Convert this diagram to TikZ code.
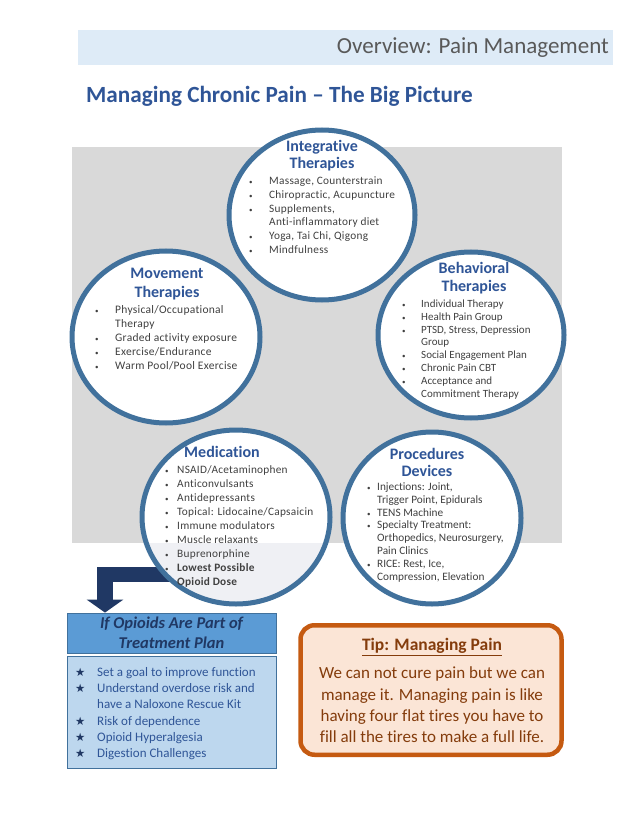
\documentclass[tikz,border=0pt]{standalone}
\usepackage{fontspec}
\setmainfont{Carlito}[Ligatures=NoCommon]
\newfontfamily\lsfont{Carlito}[Ligatures=NoCommon,LetterSpace=2.4]
\newfontfamily\symfont{DejaVu Sans}
\usetikzlibrary{shapes.geometric,arrows.meta}
\definecolor{ringblue}{HTML}{41719C}
\definecolor{titleblue}{HTML}{2F5597}
\definecolor{bodygray}{HTML}{404040}
\definecolor{bandblue}{HTML}{DEEBF7}
\definecolor{headgray}{HTML}{595959}
\definecolor{panelgray}{HTML}{D9D9D9}
\definecolor{navy}{HTML}{203864}
\definecolor{opihead}{HTML}{5B9BD5}
\definecolor{opibody}{HTML}{BDD7EE}
\definecolor{opiedge}{HTML}{41719C}
\definecolor{tipedge}{HTML}{C55A11}
\definecolor{tipfill}{HTML}{FBE5D6}
\definecolor{tiptext}{HTML}{843C0C}
\definecolor{lowfill}{HTML}{EFF0F4}
\newcommand{\bi}[1]{\makebox[#1][l]{\fontsize{7}{7}\selectfont\textbullet}}
\newcommand{\ci}[1]{\hspace*{#1}}
\newcommand{\st}{\makebox[22pt][l]{\color{navy}\symfont\fontsize{11.5}{11.5}\selectfont ★}}
\begin{document}
\begin{tikzpicture}[x=1pt,y=-1pt,
  ring/.style={ellipse, draw=ringblue, line width=5pt, fill=white, inner sep=0pt},
  ctitle/.style={align=center, inner sep=0pt, text=titleblue, font=\bfseries\fontsize{16}{17}\selectfont},
  blist/.style={anchor=north west, inner sep=0pt, align=left, text=bodygray}]
\useasboundingbox (0,0) rectangle (638,826);
% header band
\node[fill=bandblue, minimum width=535pt, minimum height=35pt, inner sep=0pt] (band) at (345.5,47.5) {};
\node[anchor=east, inner sep=0pt, text=headgray, font=\fontsize{23}{25}\selectfont] (bandtext) at (609,48) {Overview: Pain Management};
\node[anchor=base west, inner sep=0pt, text=titleblue, font=\bfseries\fontsize{23.2}{26}\selectfont] (maintitle) at (86,103) {Managing Chronic Pain – The Big Picture};
% gray panel
\node[fill=panelgray, minimum width=490pt, minimum height=396pt, inner sep=0pt] (panel) at (317,345) {};
\coordinate (graybottom) at (72,543);
% opioid boxes
\node[fill=opihead, draw=opiedge, line width=0.8pt, minimum width=209pt, minimum height=40pt, inner sep=0pt,
      align=center, text=navy, font=\bfseries\itshape\fontsize{16.5}{20}\selectfont] (opi) at (171.5,633)
      {If Opioids Are Part of\\Treatment Plan};
\node[fill=opibody, draw=opiedge, line width=0.8pt, minimum width=209pt, minimum height=112pt, inner sep=0pt] (opilist) at (171.5,712) {};
\node[blist, text=titleblue, font=\fontsize{13}{16.2}\selectfont] (opitext) at (75,665)
  {\strut\st Set a goal to improve function\\
   \st Understand overdose risk and\\
   \ci{22pt}have a Naloxone Rescue Kit\\
   \st Risk of dependence\\
   \st Opioid Hyperalgesia\\
   \st Digestion Challenges};
% arrow
\coordinate (armstart) at (185,574.5);
\draw[navy, line width=15.5pt, line join=miter, -{Triangle[width=36pt,length=13pt]}]
  (armstart) -| ([xshift=-66.5pt]opi.north);
% circles
\node[ring, minimum width=186pt, minimum height=170pt] (integ) at (322,215) {};
\node[ring, minimum width=188pt, minimum height=172pt] (move) at (166,337) {};
\node[ring, minimum width=186pt, minimum height=166pt] (behav) at (471,335) {};
\node[ring, minimum width=188pt, minimum height=174pt,
  path picture={\fill[lowfill] (path picture bounding box.west |- graybottom) rectangle (path picture bounding box.south east);}] (med) at (236,517) {};
\node[ring, minimum width=178pt, minimum height=172pt] (proc) at (432,518) {};
% circle titles
\node[ctitle] (integt) at (322,156) {Integrative\\Therapies};
\node[ctitle, font=\bfseries\fontsize{16}{19}\selectfont] (movet) at (167,284) {Movement\\Therapies};
\node[ctitle, font=\bfseries\fontsize{16}{18.3}\selectfont] (behavt) at (474,278) {Behavioral\\Therapies};
\node[ctitle] (medt) at (222,452) {Medication};
\node[ctitle, font=\bfseries\fontsize{16}{16.7}\selectfont] (proct) at (427,462.5) {Procedures\\Devices};
% lists
\node[blist, font=\lsfont\fontsize{11.3}{13.8}\selectfont] (integl) at (249,174.7)
  {\strut\bi{20pt}Massage, Counterstrain\\
   \bi{20pt}Chiropractic, Acupuncture\\
   \bi{20pt}Supplements,\\
   \ci{20pt}Anti-inflammatory diet\\
   \bi{20pt}Yoga, Tai Chi, Qigong\\
   \bi{20pt}Mindfulness};
\node[blist, font=\lsfont\fontsize{11.5}{14}\selectfont] (movel) at (95,303.7)
  {\strut\bi{20pt}Physical/Occupational\\
   \ci{20pt}Therapy\\
   \bi{20pt}Graded activity exposure\\
   \bi{20pt}Exercise/Endurance\\
   \bi{20pt}Warm Pool/Pool Exercise};
\node[blist, font=\fontsize{11}{12.9}\selectfont] (behavl) at (402,298)
  {\strut\bi{19pt}Individual Therapy\\
   \bi{19pt}Health Pain Group\\
   \bi{19pt}PTSD, Stress, Depression\\
   \ci{19pt}Group\\
   \bi{19pt}Social Engagement Plan\\
   \bi{19pt}Chronic Pain CBT\\
   \bi{19pt}Acceptance and\\
   \ci{19pt}Commitment Therapy};
\node[blist, font=\lsfont\fontsize{11.3}{14}\selectfont] (medl) at (165,463)
  {\strut\bi{12pt}NSAID/Acetaminophen\\
   \bi{12pt}Anticonvulsants\\
   \bi{12pt}Antidepressants\\
   \bi{12pt}Topical: Lidocaine/Capsaicin\\
   \bi{12pt}Immune modulators\\
   \bi{12pt}Muscle relaxants\\
   \bi{12pt}Buprenorphine\\
   \bi{12pt}\textbf{Lowest Possible}\\
   \ci{12pt}\textbf{Opioid Dose}};
\node[blist, font=\fontsize{11.3}{12.9}\selectfont] (procl) at (367,481)
  {\strut\bi{10pt}Injections: Joint,\\
   \ci{10pt}Trigger Point, Epidurals\\
   \bi{10pt}TENS Machine\\
   \bi{10pt}Specialty Treatment:\\
   \ci{10pt}Orthopedics, Neurosurgery,\\
   \ci{10pt}Pain Clinics\\
   \bi{10pt}RICE: Rest, Ice,\\
   \ci{10pt}Compression, Elevation};
% tip box
\node[draw=tipedge, fill=tipfill, line width=4.5pt, rounded corners=14pt,
      minimum width=261pt, minimum height=129.5pt, inner sep=0pt] (tip) at (431,690) {};
\node[inner sep=0pt, text=tiptext, font=\bfseries\fontsize{17.5}{20}\selectfont] (tipt) at (432,647) {\underline{Tip: Managing Pain}};
\node[inner sep=0pt, align=center, text=tiptext, font=\fontsize{17}{21.3}\selectfont] (tipb) at (432,705)
  {We can not cure pain but we can\\
   manage it. Managing pain is like\\
   having four flat tires you have to\\
   fill all the tires to make a full life.};
\end{tikzpicture}
\end{document}
